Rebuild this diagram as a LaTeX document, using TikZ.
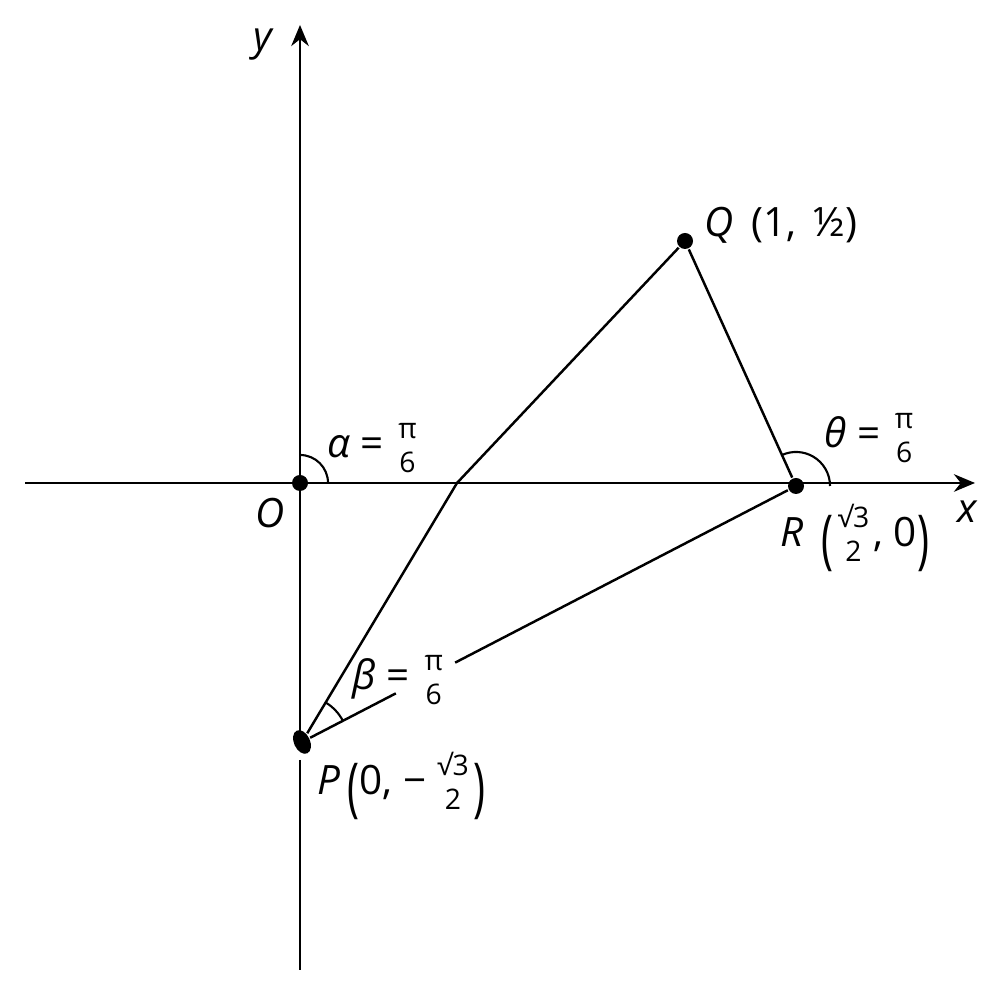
\documentclass[tikz,border=0pt]{standalone}
\usepackage{amsmath}
\usepackage{graphicx}
\usepackage{fontspec}
\setmainfont{Open Sans}
\usetikzlibrary{arrows.meta,calc,shapes.geometric}

\newcommand{\nofrac}[2]{\ensuremath{\genfrac{}{}{0pt}{1}{\text{#1}}{\text{#2}}}}
\newcommand{\tallpar}[1]{\raisebox{-0.36em}{\scalebox{1}[1.6]{#1}}}

\begin{document}
\begin{tikzpicture}[
		x=0.01cm, y=0.01cm,
		line width=0.7pt,
		>={Stealth[length=6pt,width=5pt]},
		font=\fontsize{11.5}{13}\selectfont,
		dot/.style={circle,fill,inner sep=0pt,minimum size=1.6mm},
		blob/.style={ellipse,fill,inner sep=0pt,minimum width=1.6mm,minimum height=2.5mm,rotate=25},
		arcmark/.style={line width=0.6pt}
	]
		\useasboundingbox (0,0) rectangle (1007,998);

		% Points
		\node[dot] (O) at (300,515) {};
		\node[dot] (Q) at (685,757) {};
		\node[dot] (R) at (796,512) {};
		\node[blob] (P) at (302,256) {};
		\coordinate (K) at (457,515);

		% Axes
		\coordinate (xl) at (25,515);
		\coordinate (xr) at (975,515);
		\coordinate (yt) at (300,973);
		\coordinate (ym) at (300,250);
		\coordinate (yg) at (300,238);
		\coordinate (yb) at (300,28);
		\draw[->] (xl) -- (xr);
		\draw[->] (ym) -- (yt);
		\draw (yg) -- (yb);

		% Lines
		\draw (P) -- (K) -- (Q);
		\draw (Q) -- (R);
		\draw (P) -- ($(P)!0.19!(R)$);
		\draw ($(P)!0.31!(R)$) -- (R);

		% Angles
		\draw[arcmark] ([shift={(0:2.8mm)}]O.center) arc[start angle=0,end angle=90,radius=2.8mm];
		\draw[arcmark] ([shift={(0:3.4mm)}]R.center) arc[start angle=0,end angle=114,radius=3.4mm];
		\draw[arcmark] ([shift={(27:4.6mm)}]P.center) arc[start angle=27,end angle=59,radius=4.6mm];

		% Labels
		\node (ylab) at (264,953) {\textit{y}};
		\node (xlab) at (968,486) {\textit{x}};
		\node (Olab) at (270,485) {\textit{O}};
		\node[anchor=west] (Qlab) at (692,773) {\textit{Q}\, (1,\, ½)};
		\node (alab) at (374,550) {\textit{α} = \nofrac{π}{6}};
		\node (tlab) at (871,560) {\textit{θ} = \nofrac{π}{6}};
		\node (blab) at (400,318) {\textit{β} = \nofrac{π}{6}};
		\node[anchor=west] (Rlab) at (768,460) {\textit{R}\, \tallpar{(}\nofrac{√3}{2}, 0\tallpar{)}};
		\node[anchor=west] (Plab) at (305,212) {\textit{P}\,\tallpar{(}0, −\,\nofrac{√3}{2}\tallpar{)}};
	\end{tikzpicture}
\end{document}
